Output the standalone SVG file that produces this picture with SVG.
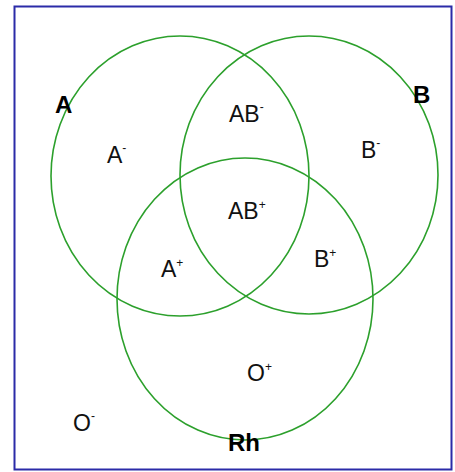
<svg xmlns="http://www.w3.org/2000/svg" width="455" height="472" viewBox="0 0 455 472">
<style>
.frame{fill:#fff;stroke:#2b2ba8;stroke-width:2}
.set{fill:none;stroke:#2ca02c;stroke-width:1.6}
.lbl{font-family:"Liberation Sans",Arial,sans-serif;font-size:23px;fill:#111}
.big{font-family:"Liberation Sans",Arial,sans-serif;font-size:24px;font-weight:bold;fill:#000}
.sup{font-size:12px}
</style>
<rect class="frame" x="14.5" y="6.5" width="437" height="463"/>
<g id="connectors"></g>
<g id="setA"><ellipse class="set" cx="180" cy="176" rx="129" ry="140"/><text class="big" x="55" y="113">A</text></g>
<g id="setB"><ellipse class="set" cx="309" cy="175" rx="129" ry="139"/><text class="big" x="413" y="103">B</text></g>
<g id="setRh"><ellipse class="set" cx="245" cy="299" rx="128" ry="141"/><text class="big" x="228" y="451">Rh</text></g>
<g id="Aneg"><text class="lbl" x="107" y="163">A<tspan class="sup" dy="-11">-</tspan></text></g>
<g id="ABneg"><text class="lbl" x="229" y="122">AB<tspan class="sup" dy="-11">-</tspan></text></g>
<g id="Bneg"><text class="lbl" x="361" y="158">B<tspan class="sup" dy="-11">-</tspan></text></g>
<g id="ABpos"><text class="lbl" x="228" y="219">AB<tspan class="sup" dy="-10">+</tspan></text></g>
<g id="Apos"><text class="lbl" x="161" y="277">A<tspan class="sup" dy="-10">+</tspan></text></g>
<g id="Bpos"><text class="lbl" x="314" y="267">B<tspan class="sup" dy="-10">+</tspan></text></g>
<g id="Opos"><text class="lbl" x="247" y="381">O<tspan class="sup" dy="-10">+</tspan></text></g>
<g id="Oneg"><text class="lbl" x="73" y="431">O<tspan class="sup" dy="-11">-</tspan></text></g>
</svg>
